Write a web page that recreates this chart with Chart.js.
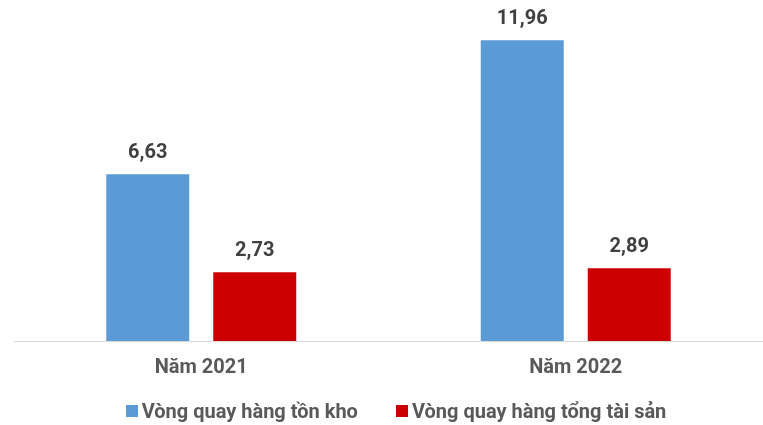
<!DOCTYPE html>
<html>
<head>
<meta charset="utf-8">
<script src="https://cdn.jsdelivr.net/npm/chart.js@4"></script>
<style>
  html, body { margin: 0; padding: 0; background: #fff; }
  #wrap { position: relative; width: 763px; height: 425px; }
  #myChart { display: block; }
  #legend {
    position: absolute; left: 0; top: 398px; width: 763px; height: 26px;
    display: flex; justify-content: center; padding-left: 29px; box-sizing: border-box;
    font: bold 20px Roboto; color: #595959; line-height: 26px;
  }
  #legend .item { display: flex; align-items: center; margin: 0 19px; white-space: nowrap; }
  #legend .sw { width: 12px; height: 12px; margin-right: 4px; }
</style>
</head>
<body>
<div id="wrap">
  <canvas id="myChart" width="763" height="407"></canvas>
  <div id="legend"></div>
</div>
<script>
// du lieu
var categories = ['Năm 2021', 'Năm 2022'];
var tonKho = [6.63, 11.96];
var tongTaiSan = [2.73, 2.89];
var seriesNames = ['Vòng quay hàng tồn kho', 'Vòng quay hàng tổng tài sản'];
var seriesColors = ['#5B9BD5', '#CC0000'];

Chart.defaults.font.family = 'Roboto';

// ve so tren dau cot
var barLabels = {
  id: 'barLabels',
  afterDatasetsDraw: function(chart) {
    var ctx = chart.ctx;
    ctx.save();
    ctx.font = 'bold 20px Roboto';
    ctx.fillStyle = '#404040';
    ctx.textAlign = 'center';
    ctx.textBaseline = 'middle';
    chart.data.datasets.forEach(function(ds, i) {
      chart.getDatasetMeta(i).data.forEach(function(bar, j) {
        var txt = ds.data[j].toFixed(2).replace('.', ',');
        ctx.fillText(txt, bar.x, bar.y - 21);
      });
    });
    ctx.restore();
  }
};

var ctx = document.getElementById('myChart');
var chart = new Chart(ctx, {
  type: 'bar',
  data: {
    labels: categories,
    datasets: [{
      label: seriesNames[0],
      data: tonKho,
      backgroundColor: seriesColors[0],
      categoryPercentage: 0.5714,
      barPercentage: 0.7757
    }, {
      label: seriesNames[1],
      data: tongTaiSan,
      backgroundColor: seriesColors[1],
      categoryPercentage: 0.5714,
      barPercentage: 0.7757
    }]
  },
  options: {
    responsive: false,
    animation: false,
    layout: { padding: { left: 14, right: 0, top: 14, bottom: 12 } },
    scales: {
      x: {
        grid: { display: false, drawTicks: false },
        border: { display: true, color: '#D9D9D9', width: 1 },
        ticks: { color: '#595959', font: { size: 20, weight: 'bold' }, padding: 15 }
      },
      y: {
        display: false,
        min: 0,
        max: 13
      }
    },
    plugins: {
      legend: { display: false },
      tooltip: { enabled: false }
    }
  },
  plugins: [barLabels]
});

// chu thich
var lg = document.getElementById('legend');
chart.data.datasets.forEach(function(ds) {
  var it = document.createElement('div');
  it.className = 'item';
  var sw = document.createElement('span');
  sw.className = 'sw';
  sw.style.background = ds.backgroundColor;
  it.appendChild(sw);
  it.appendChild(document.createTextNode(ds.label));
  lg.appendChild(it);
});
</script>
</body>
</html>
